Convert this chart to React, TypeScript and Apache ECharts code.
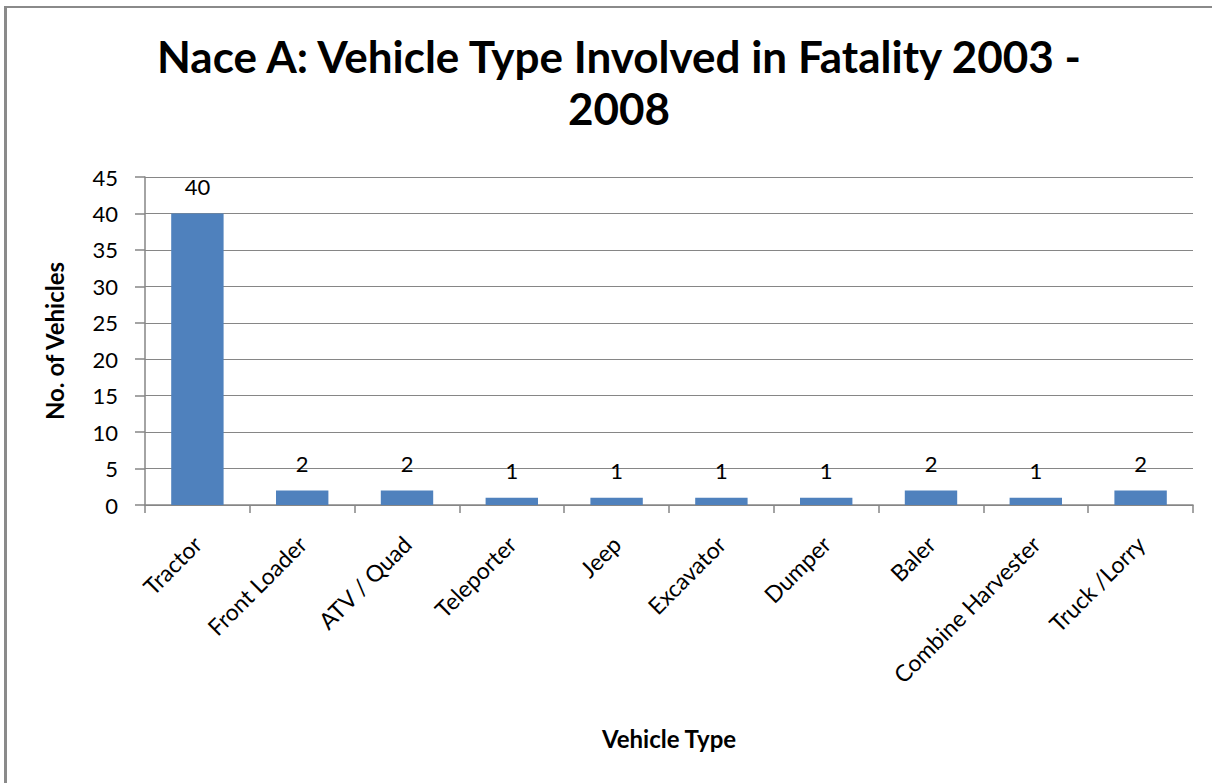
import React, { useEffect, useRef } from "react";
import * as echarts from "echarts";

const categories = ["Tractor", "Front Loader", "ATV / Quad", "Teleporter", "Jeep", "Excavator", "Dumper", "Baler", "Combine Harvester", "Truck /Lorry"];
const values = [40, 2, 2, 1, 1, 1, 1, 2, 1, 2];
const titleText = "Nace A: Vehicle Type Involved in Fatality 2003 -\n2008";
const yAxisName = "No. of Vehicles";
const xAxisName = "Vehicle Type";

const FONT = "Lato, 'Open Sans', sans-serif";

export default function App() {
  const ref = useRef<HTMLDivElement>(null);
  useEffect(() => {
    document.body.style.margin = "0";
    document.body.style.overflow = "hidden";
    const chart = echarts.init(ref.current!, null, { renderer: "svg" });
    chart.setOption({
      animation: false,
      backgroundColor: "#ffffff",
      title: {
        text: titleText,
        left: 614,
        textAlign: "center",
        top: 25,
        textStyle: { fontFamily: FONT, fontSize: 44, fontWeight: "bold", color: "#000", lineHeight: 52 },
      },
      grid: { left: 145, right: 19, top: 177, bottom: 278, containLabel: false },
      xAxis: {
        type: "category",
        data: categories,
        name: xAxisName,
        nameLocation: "middle",
        nameGap: 221,
        nameTextStyle: { fontFamily: FONT, fontSize: 24, fontWeight: "bold", color: "#000" },
        axisLine: { lineStyle: { color: "#868686", width: 1.5 } },
        axisTick: { show: true, length: 8, lineStyle: { color: "#868686", width: 1.5 } },
        axisLabel: { rotate: 45, margin: 35, interval: 0, fontFamily: FONT, fontSize: 23, color: "#000" },
      },
      yAxis: {
        type: "value",
        min: 0,
        max: 45,
        interval: 5,
        name: yAxisName,
        nameLocation: "middle",
        nameGap: 79,
        nameTextStyle: { fontFamily: FONT, fontSize: 24, fontWeight: "bold", color: "#000" },
        axisLine: { show: true, lineStyle: { color: "#868686", width: 1.5 } },
        axisTick: { show: true, length: 10, lineStyle: { color: "#868686", width: 1.5 } },
        axisLabel: { margin: 27, fontFamily: FONT, fontSize: 22, color: "#000" },
        splitLine: { lineStyle: { color: "#868686", width: 1.2 } },
      },
      series: [
        {
          type: "bar",
          data: values,
          barWidth: "50%",
          itemStyle: { color: "#4F81BD" },
          label: { show: true, position: "top", distance: 16, fontFamily: FONT, fontSize: 22, color: "#000" },
        },
      ],
    });
    return () => chart.dispose();
  }, []);
  return (
    <div style={{ position: "fixed", left: 0, top: 0, width: 1212, height: 783, overflow: "hidden", background: "#fff" }}>
      <div ref={ref} style={{ position: "absolute", left: 0, top: 0, width: 1212, height: 783 }} />
      <div
        style={{
          position: "absolute",
          left: 4,
          top: 6,
          width: 1400,
          height: 1000,
          borderLeft: "3px solid #8a8a8a",
          borderTop: "2px solid #8a8a8a",
          pointerEvents: "none",
        }}
      />
    </div>
  );
}
